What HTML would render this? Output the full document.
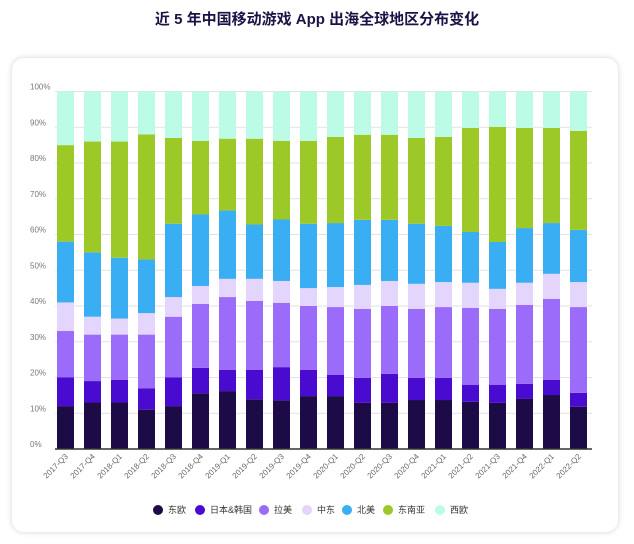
<!DOCTYPE html>
<html><head><meta charset="utf-8"><style>
body{margin:0;width:634px;height:544px;background:#fff;font-family:"Liberation Sans","Noto Sans CJK SC",sans-serif;overflow:hidden}
#title{position:absolute;left:0;top:8px;width:634px;text-align:center;font-size:15px;font-weight:bold;color:#1a1446}
#card{position:absolute;left:12px;top:58px;width:606px;height:474px;border-radius:12px;background:#fff;box-shadow:0 0 6px rgba(0,0,0,0.18)}
svg{position:absolute;left:0;top:0}
</style></head><body>
<div id="title">近 5 年中国移动游戏 App 出海全球地区分布变化</div>
<div id="card"></div>
<svg id="chart" width="634" height="544"></svg>
<script>
const categories=["2017-Q3","2017-Q4","2018-Q1","2018-Q2","2018-Q3","2018-Q4","2019-Q1","2019-Q2","2019-Q3","2019-Q4","2020-Q1","2020-Q2","2020-Q3","2020-Q4","2021-Q1","2021-Q2","2021-Q3","2021-Q4","2022-Q1","2022-Q2"];
const seriesNames=["东欧","日本&韩国","拉美","中东","北美","东南亚","西欧"];
const eastEurope=[12,13,13,11,12,15.6,16.2,13.9,13.6,14.8,14.8,12.9,12.9,13.7,13.7,13.2,12.9,14,15.1,11.8];
const japanKorea=[8,6,6.3,6,8,7.1,5.9,8.2,9.3,7.3,5.9,7,8.1,6.2,6.2,4.7,5,4.2,4.2,3.9];
const latinAmerica=[13,13,12.7,15,17,17.9,20.4,19.3,18,17.9,19,19.3,19,19.3,19.8,21.6,21.3,22.1,22.7,24];
const middleEast=[8,5,4.5,6,5.5,5,5.1,6.2,6.1,5,5.6,6.7,7,7,7,7,5.6,6.2,7,7];
const northAmerica=[17,18,17,15,20.5,20,19.1,15.2,17.2,18,17.9,18.2,17.1,16.8,15.7,14.2,13.1,15.3,14.2,14.6];
const southeastAsia=[27,31,32.5,35,24,20.6,20.1,24,22,23.2,24.1,23.8,23.8,24,24.9,29.1,32.2,28,26.6,27.7];
const westEurope=[15,14,14,12,13,13.8,13.2,13.2,13.8,13.8,12.7,12.1,12.1,13,12.7,10.2,9.9,10.2,10.2,11];
const yTicks=[0,10,20,30,40,50,60,70,80,90,100];
const series=[eastEurope,japanKorea,latinAmerica,middleEast,northAmerica,southeastAsia,westEurope];
const colors=["#1c0b47","#4a0bd0","#9b6bfa","#e3d5fb","#3aaef2","#9cc928","#bcfbe6"];
const svg=document.getElementById('chart');const NS="http://www.w3.org/2000/svg";
const x0=57,step=27.0,bw=17,yB=449,yT=91.5;
const y=v=>yB-(yB-yT)*v/100;
const bx=i=>x0+i*step;
function mk(t,a){const e=document.createElementNS(NS,t);for(const k in a)e.setAttribute(k,a[k]);svg.appendChild(e);return e;}
yTicks.forEach(t=>{
 if(t>0){const l=mk('line',{x1:55,x2:592,y1:y(t),y2:y(t),stroke:'#e2e2e2','stroke-width':1});
 
 }
 const tx=mk('text',{x:30,y:y(t)-2,'font-size':8,fill:'#777'});tx.textContent=t+'%';
 
 
});
categories.forEach((c,i)=>{
 let acc=0;
 series.forEach((s,k)=>{
  const v=s[i];
  const r=mk('rect',{x:bx(i),y:y(acc+v),width:bw,height:y(acc)-y(acc+v),fill:colors[k]});
  
  
  acc+=v;
 });
 const cx=bx(i)+bw/2+3;
 const t=mk('text',{x:cx,y:457,'font-size':8,fill:'#666','text-anchor':'end',transform:`rotate(-45 ${cx} 457)`});
 t.textContent=c;
 
 
});
const base=mk('line',{x1:55,x2:592,y1:yB,y2:yB,stroke:'#333','stroke-width':1.5});


const lx=[158,200,264,307,347,388,440];
seriesNames.forEach((n,k)=>{
 const c=mk('circle',{cx:lx[k],cy:510,r:5,fill:colors[k]});
 
 
 const t=mk('text',{x:lx[k]+10,y:513,'font-size':9,fill:'#333'});t.textContent=n;
 
 
});
</script>
</body></html>
